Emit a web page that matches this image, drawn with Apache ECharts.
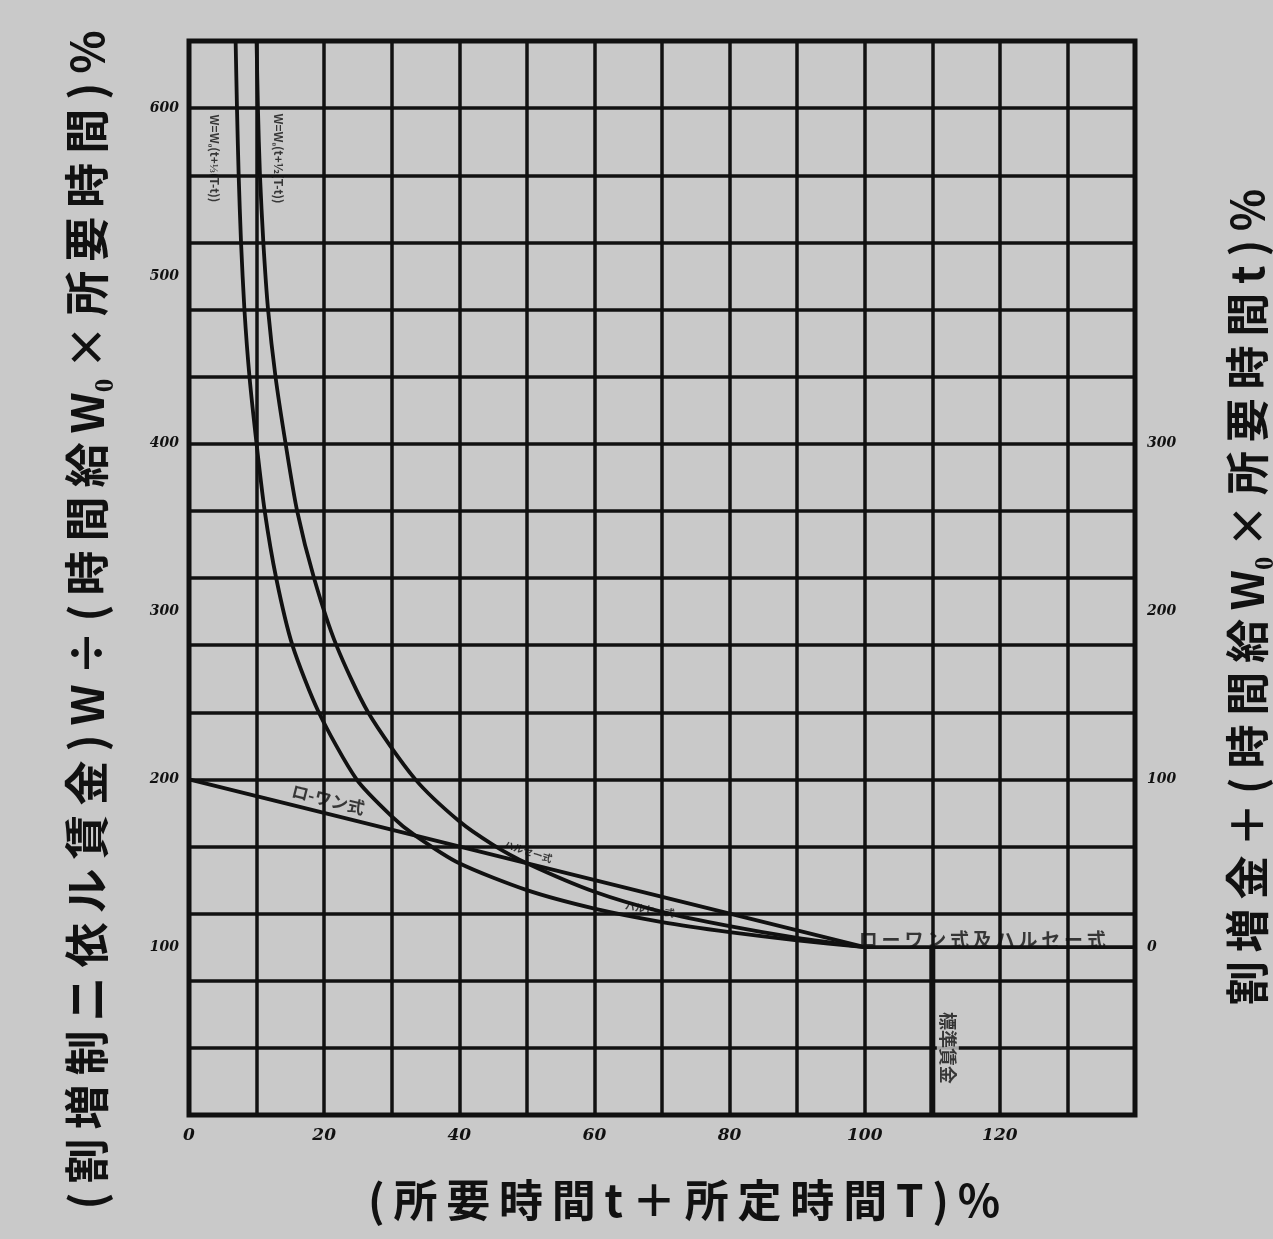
<!DOCTYPE html>
<html><head><meta charset="utf-8">
<script src="https://cdn.jsdelivr.net/npm/echarts@6/dist/echarts.min.js"></script>
<style>html,body{margin:0;padding:0;background:#c9c9c9;}#c{width:1273px;height:1239px;}</style>
</head><body><div id="c"></div>
<script>
// Tick labels
const xTickLabels = [0, 20, 40, 60, 80, 100, 120];
const leftTickLabels = [100, 200, 300, 400, 500, 600];
const rightTickLabels = [0, 100, 200, 300];
// Series (x: t/T %, y: W/(W0 t) %)
const rowan = [[0, 200], [100, 100]];
const flat = [[100, 100], [140, 100]];
const markerLine = [[110, 100], [110, 0]];
const halseyThird = [[6.9,640],[7.1,600],[7.35,560],[7.7,520],[8.2,480],[8.95,440],[10.0,400],[11.2,360],[12.9,320],[15.3,280],[19.2,240],[24.8,200],[30,178],[33.5,166.5],[40,150],[50,134],[60,123],[70,115],[80,109],[90,104],[100,100]];
const halseyHalf = [[10.0,640],[10.2,600],[10.5,560],[11.0,520],[11.7,480],[12.8,440],[14.3,400],[16.0,360],[18.5,320],[21.8,280],[26.5,240],[33.5,200],[40,175],[45,161],[50,150],[60,133],[70,121],[80,112.5],[90,105.5],[100,100]];
// Annotations [x, y, text, rotateDeg, fontSize]
const notes = [
  [20.6, 188, 'ロ-ワン式', -14, 17],
  [117.4, 104.6, 'ローワン式及ハルセー式', 0, 19],
  [3.8, 570, 'W=W₀(t+⅓(T-t))', -90, 12],
  [13.2, 570, 'W=W₀(t+½(T-t))', -90, 12],
  [50.2, 157, 'ハルセー式', -18, 10],
  [68.2, 122.5, 'ハルセー式', -9, 10]
];
const boxNotes = [
  [112.3, 40, '標準賃金', -90, 18]
];

const INK = '#111';
const PAPER = '#c9c9c9';
const sp = s => s.match(/W₀|./gu).join('\u2009');
const chart = echarts.init(document.getElementById('c'));
const lineStyle = {color: INK, width: 3.8};
const baseSeries = (data) => ({type: 'line', data, showSymbol: false, symbol: 'none', lineStyle, smooth: 0.25, xAxisIndex: 0, yAxisIndex: 0, z: 5, silent: true});
const noteSeries = (arr, boxed) => ({type: 'scatter', symbolSize: 0, silent: true, z: 6,
  data: arr.map(n => ({value: [n[0], n[1]], name: n[2],
    label: {rotate: n[3], fontSize: n[4], formatter: n[2] === 'ローワン式及ハルセー式' ? sp(n[2]) : n[2]}})),
  label: {show: true, position: 'inside', color: INK, fontWeight: 'bold',
    fontFamily: 'Noto Sans CJK JP', backgroundColor: boxed ? PAPER : 'transparent', padding: boxed ? [2, 4] : 0}});
chart.setOption({
  backgroundColor: PAPER,
  animation: false,
  grid: {left: 189, top: 41, width: 946, height: 1074, show: true, borderColor: INK, borderWidth: 5, outerBoundsMode: 'none', containLabel: false},
  xAxis: [{
    type: 'value', min: 0, max: 140, interval: 10,
    axisLine: {show: false}, axisTick: {show: false},
    splitLine: {show: true, lineStyle: {color: INK, width: 3.5}},
    axisLabel: {margin: 12, color: INK, fontSize: 17, fontStyle: 'italic', fontWeight: 'bold', fontFamily: 'DejaVu Serif',
      formatter: v => xTickLabels.includes(v) ? String(v) : ''},
    name: sp('(所要時間t＋所定時間T)%'), nameLocation: 'middle', nameGap: 63,
    nameTextStyle: {color: INK, fontSize: 44, fontWeight: 'bold', fontFamily: 'Noto Sans CJK JP', padding: [0, 0, 0, 44]}
  }],
  yAxis: [
    {type: 'value', min: 0, max: 640, interval: 40, position: 'left',
      axisLine: {show: false}, axisTick: {show: false}, axisLabel: {show: false},
      splitLine: {show: true, lineStyle: {color: INK, width: 3.5}}},
    {type: 'value', min: 0, max: 640, interval: 100, position: 'left',
      axisLine: {show: false}, axisTick: {show: false}, splitLine: {show: false},
      axisLabel: {margin: 10, color: INK, fontSize: 14, fontStyle: 'italic', fontWeight: 'bold', fontFamily: 'DejaVu Serif',
        formatter: v => leftTickLabels.includes(v) ? String(v) : ''},
      name: sp('(割増制ニ依ル賃金)W÷(時間給W₀×所要時間)%'), nameLocation: 'middle', nameGap: 80, nameRotate: 90,
      nameTextStyle: {color: INK, fontSize: 45, fontWeight: 'bold', fontFamily: 'Noto Sans CJK JP', padding: [0, 84, 0, 0]}},
    {type: 'value', min: -100, max: 540, interval: 100, position: 'right',
      axisLine: {show: false}, axisTick: {show: false}, splitLine: {show: false},
      axisLabel: {margin: 12, color: INK, fontSize: 14, fontStyle: 'italic', fontWeight: 'bold', fontFamily: 'DejaVu Serif',
        formatter: v => rightTickLabels.includes(v) ? String(v) : ''},
      name: sp('割増金＋(時間給W₀×所要時間t)%'), nameLocation: 'middle', nameGap: 90, nameRotate: 90,
      nameTextStyle: {color: INK, fontSize: 44, fontWeight: 'bold', fontFamily: 'Noto Sans CJK JP', padding: [0, 38, 0, 0]}}
  ],
  series: [
    Object.assign(baseSeries(rowan), {smooth: false}),
    Object.assign(baseSeries(flat), {smooth: false}),
    Object.assign(baseSeries(markerLine), {smooth: false, lineStyle: {color: INK, width: 6}}),
    baseSeries(halseyThird),
    baseSeries(halseyHalf),
    noteSeries(notes, false),
    noteSeries(boxNotes, true)
  ]
});
</script></body></html>
